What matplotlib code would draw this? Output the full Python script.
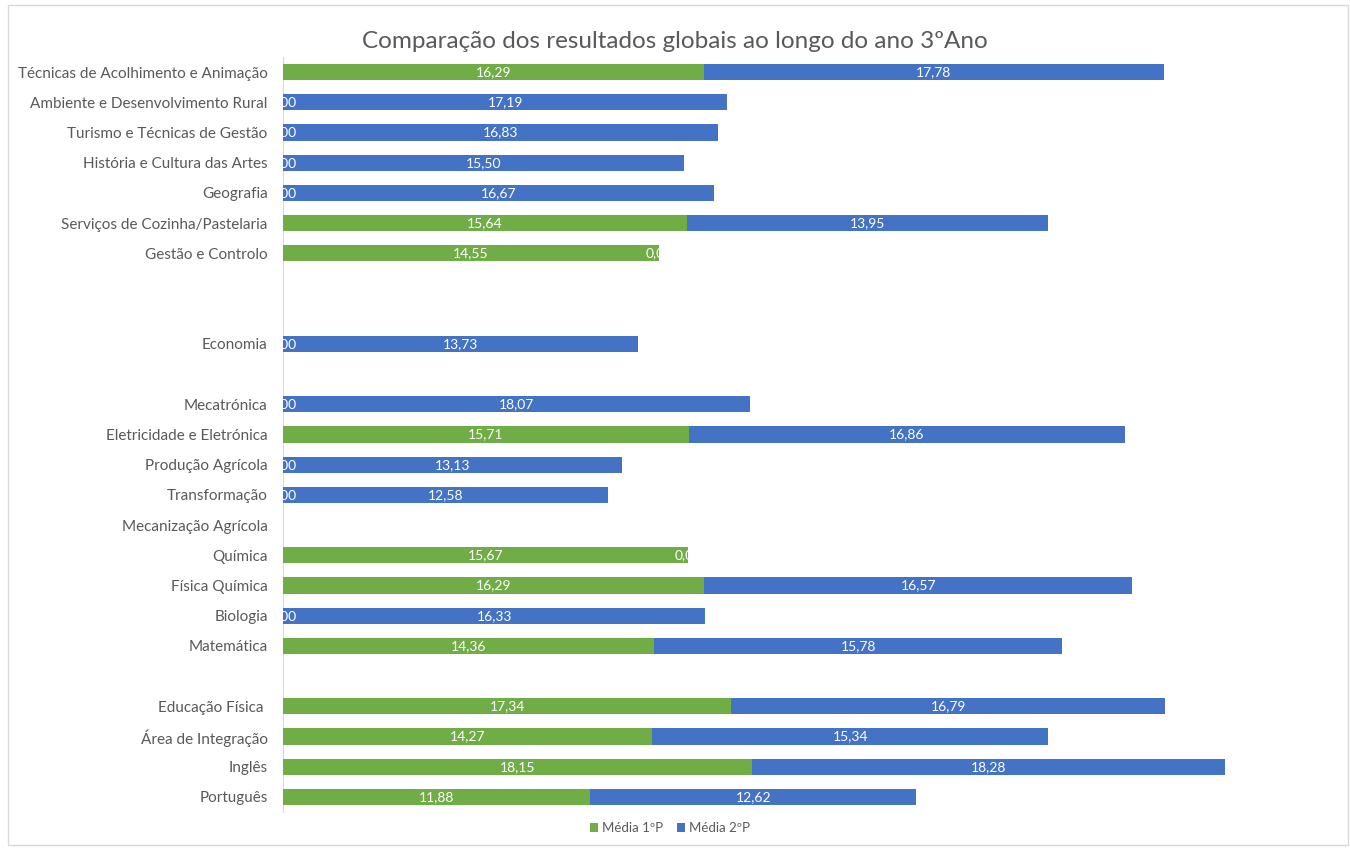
import matplotlib.pyplot as plt
import matplotlib.patches as mpatches
import numpy as np

plt.rcParams['font.family'] = ['Lato', 'DejaVu Sans']

# categories from bottom to top (empty strings are blank rows in the chart)
categories = [
    'Português', 'Inglês', 'Área de Integração', 'Educação Física ', '',
    'Matemática', 'Biologia', 'Física Química', 'Química', 'Mecanização Agrícola',
    'Transformação', 'Produção Agrícola', 'Eletricidade e Eletrónica', 'Mecatrónica', '',
    'Economia', '', '', 'Gestão e Controlo', 'Serviços de Cozinha/Pastelaria',
    'Geografia', 'História e Cultura das Artes', 'Turismo e Técnicas de Gestão',
    'Ambiente e Desenvolvimento Rural', 'Técnicas de Acolhimento e Animação',
]
nan = np.nan
media_1p = [11.88, 18.15, 14.27, 17.34, nan,
            14.36, 0.00, 16.29, 15.67, nan,
            0.00, 0.00, 15.71, 0.00, nan,
            0.00, nan, nan, 14.55, 15.64,
            0.00, 0.00, 0.00, 0.00, 16.29]
media_2p = [12.62, 18.28, 15.34, 16.79, nan,
            15.78, 16.33, 16.57, 0.00, nan,
            12.58, 13.13, 16.86, 18.07, nan,
            13.73, nan, nan, 0.00, 13.95,
            16.67, 15.50, 16.83, 17.19, 17.78]
series_names = ['Média 1ºP', 'Média 2ºP']

green = '#70AD47'
blue = '#4472C4'
grey = '#595959'

fig = plt.figure(figsize=(13.5, 8.48), dpi=100)
ax = fig.add_axes([283 / 1350, 36 / 848, 1034 / 1350, 755 / 848])

y = np.arange(len(categories))
v1 = np.array(media_1p, dtype=float)
v2 = np.array(media_2p, dtype=float)
h = 0.53

b1 = ax.barh(y, np.nan_to_num(v1), height=h, color=green, label=series_names[0])
b2 = ax.barh(y, np.nan_to_num(v2), left=np.nan_to_num(v1), height=h, color=blue,
             label=series_names[1])

# white data labels centred in each segment
for i in range(len(categories)):
    if not np.isnan(v1[i]):
        ax.text(v1[i] / 2, y[i], f'{v1[i]:.2f}'.replace('.', ','), ha='center',
                va='center', color='white', fontsize=10, clip_on=False)
    if not np.isnan(v2[i]):
        ax.text(v1[i] + v2[i] / 2, y[i], f'{v2[i]:.2f}'.replace('.', ','), ha='center',
                va='center', color='white', fontsize=10, clip_on=False)

ax.set_xlim(0, 40)
ax.set_ylim(-0.5, len(categories) - 0.5)
ax.set_yticks(y)
ax.set_yticklabels(categories, color=grey, fontsize=11)
ax.tick_params(axis='y', length=0, pad=11)
ax.set_xticks([])
for s in ['top', 'right', 'bottom']:
    ax.spines[s].set_visible(False)
ax.spines['left'].set_color('#d9d9d9')
ax.spines['left'].set_zorder(0)

fig.text(0.5, 1 - 42 / 848, 'Comparação dos resultados globais ao longo do ano 3ºAno',
         ha='center', va='center', fontsize=17.5, color=grey)

fig.legend(handles=[b1, b2], labels=series_names, loc='center',
           bbox_to_anchor=(670 / 1350, 1 - 828 / 848), ncol=2, frameon=False,
           handlelength=0.6, handleheight=0.6, handletextpad=0.3, columnspacing=1.0,
           fontsize=9.5, labelcolor=grey)

# chart area border
fig.patches.append(mpatches.Rectangle((8 / 1350, 3 / 848), 1340 / 1350, 840 / 848,
                                      transform=fig.transFigure, fill=False,
                                      edgecolor='#d9d9d9', linewidth=1))

fig.savefig('out.png', dpi=100)
